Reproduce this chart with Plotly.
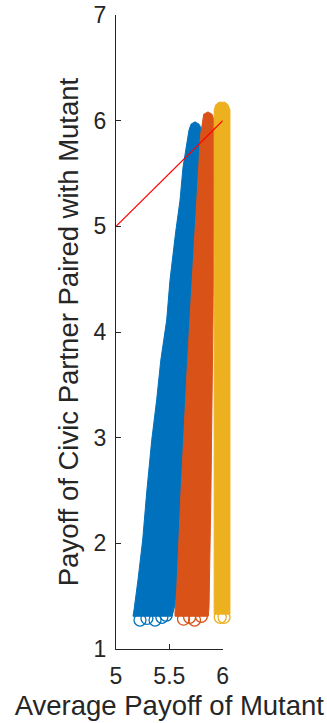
import plotly.graph_objects as go

# ---- data -----------------------------------------------------------------
# Outline of each cloud of simulated (mutant payoff, partner payoff) pairs.
blue_outline_x = [5.684, 5.703, 5.740, 5.778, 5.797, 5.815, 5.778, 5.712, 5.637,
                  5.600, 5.581, 5.553, 5.525, 5.159, 5.169, 5.206, 5.250, 5.288,
                  5.335, 5.381, 5.420, 5.475, 5.506, 5.558, 5.600, 5.628, 5.665]
blue_outline_y = [5.910, 5.967, 5.989, 5.967, 5.929, 5.815, 4.964, 3.715, 2.485,
                  1.842, 1.558, 1.416, 1.310, 1.310, 1.369, 1.653, 2.031, 2.485,
                  2.977, 3.356, 3.734, 4.113, 4.491, 4.936, 5.248, 5.560, 5.815]
blue_foot_x = [5.225, 5.290, 5.366, 5.430, 5.470]
blue_foot_y = [1.274, 1.290, 1.274, 1.300, 1.320]

orange_outline_x = [5.808, 5.822, 5.862, 5.900, 5.918, 5.928, 5.918, 5.905, 5.890,
                    5.872, 5.865, 5.553, 5.553, 5.569, 5.609, 5.670, 5.745, 5.792]
orange_outline_y = [5.967, 6.061, 6.083, 6.061, 6.010, 5.900, 4.900, 3.700, 2.500,
                    1.400, 1.310, 1.310, 1.350, 1.558, 2.485, 3.715, 4.964, 5.863]
orange_foot_x = [5.633, 5.690, 5.736, 5.800]
orange_foot_y = [1.283, 1.300, 1.274, 1.310]

yellow_outline_x = [5.920, 5.935, 5.965, 6.021, 6.050, 6.068, 6.068, 5.920]
yellow_outline_y = [6.100, 6.150, 6.175, 6.175, 6.150, 6.100, 1.330, 1.330]
yellow_foot_x = [5.977, 6.012]
yellow_foot_y = [1.300, 1.300]

# Reference line: partner payoff equal to mutant payoff
ref_x = [5.0, 6.0]
ref_y = [5.0, 6.0]

x_ticks = [5, 5.5, 6]
x_tick_text = ["5", "5.5", "6"]
y_ticks = [1, 2, 3, 4, 5, 6, 7]
y_tick_text = ["1", "2", "3", "4", "5", "6", "7"]

colors = {"blue": "#0072BD", "orange": "#D95319", "yellow": "#EDB120"}

# ---- layout geometry ------------------------------------------------------
W, H = 327, 723
X0, X1 = 116 / W, 222.7 / W          # visible axes domain
Y0, Y1 = (H - 649) / H, (H - 15) / H
XB1 = 0.85                           # wider (invisible) domain for the clouds
x_band_hi = 5 + (XB1 - X0) / (X1 - X0)

fig = go.Figure()

clouds = [
    ("blue", blue_outline_x, blue_outline_y, blue_foot_x, blue_foot_y),
    ("orange", orange_outline_x, orange_outline_y, orange_foot_x, orange_foot_y),
    ("yellow", yellow_outline_x, yellow_outline_y, yellow_foot_x, yellow_foot_y),
]
for name, ox, oy, fx, fy in clouds:
    c = colors[name]
    fig.add_trace(go.Scatter(
        x=ox + [ox[0]], y=oy + [oy[0]], mode="lines", fill="toself",
        fillcolor=c, line=dict(color=c, width=1), hoverinfo="skip",
        showlegend=False, xaxis="x", yaxis="y"))
    fig.add_trace(go.Scatter(
        x=fx, y=fy, mode="markers", cliponaxis=False,
        marker=dict(symbol="circle-open", size=12, color=c,
                    line=dict(width=1.3, color=c)),
        showlegend=False, xaxis="x", yaxis="y"))

fig.add_trace(go.Scatter(
    x=ref_x, y=ref_y, mode="lines", line=dict(color="#FF0000", width=1.2),
    showlegend=False, xaxis="x2", yaxis="y2"))

axis_color = "#262626"
tick_font = dict(family="Liberation Sans, Arial, sans-serif", size=23, color=axis_color)
title_font = dict(family="Liberation Sans, Arial, sans-serif", size=27.5, color=axis_color)

fig.update_layout(
    width=W, height=H,
    margin=dict(l=0, r=0, t=0, b=0),
    paper_bgcolor="white", plot_bgcolor="rgba(0,0,0,0)",
    xaxis=dict(domain=[X0, XB1], range=[5, x_band_hi], visible=False,
               fixedrange=True, automargin=False),
    yaxis=dict(domain=[Y0, Y1], range=[1, 7], visible=False,
               fixedrange=True, automargin=False),
    xaxis2=dict(
        domain=[X0, X1], range=[5, 6], anchor="y2", automargin=False,
        tickvals=x_ticks, ticktext=x_tick_text, ticks="inside", ticklen=5,
        tickcolor=axis_color, tickwidth=1, showline=True, linecolor=axis_color,
        linewidth=1, showgrid=False, zeroline=False, tickfont=tick_font,
        ticklabelstandoff=6,
        title=dict(text="Average Payoff of Mutant", font=title_font, standoff=8),
    ),
    yaxis2=dict(
        domain=[Y0, Y1], range=[1, 7], anchor="x2", automargin=False,
        tickvals=y_ticks, ticktext=y_tick_text, ticks="inside", ticklen=5,
        tickcolor=axis_color, tickwidth=1, showline=True, linecolor=axis_color,
        linewidth=1, showgrid=False, zeroline=False, tickfont=tick_font,
        ticklabelstandoff=4,
        title=dict(text="Payoff of Civic Partner Paired with Mutant",
                   font=title_font, standoff=6),
    ),
)

fig.write_html("out.html")
